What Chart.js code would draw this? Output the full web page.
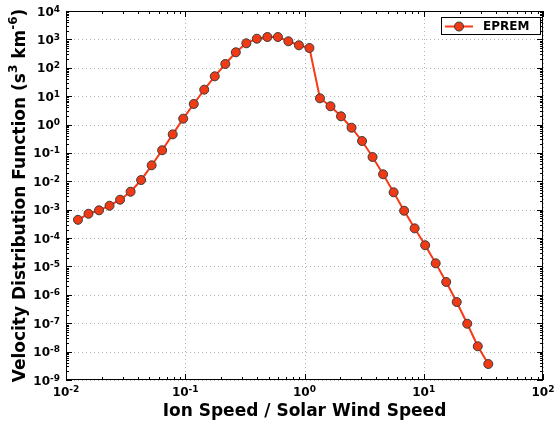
<!DOCTYPE html>
<html>
<head>
<meta charset="utf-8">
<script src="https://cdn.jsdelivr.net/npm/chart.js@4.4.1/dist/chart.umd.min.js"></script>
<style>
  html, body { margin: 0; padding: 0; background: #fff; }
  #wrap { width: 556px; height: 423px; }
</style>
</head>
<body>
<div id="wrap"><canvas id="myChart"></canvas></div>
<script>
// Ion speed (in units of solar wind speed)
const speed = [0.0126, 0.01544, 0.01892, 0.02318, 0.02841, 0.03481, 0.04265, 0.05226,
  0.0640, 0.0785, 0.0961, 0.1178, 0.1443, 0.1768, 0.2167, 0.2655, 0.3252, 0.3985,
  0.4883, 0.5983, 0.7328, 0.898, 1.100, 1.348, 1.652, 2.024, 2.480, 3.038, 3.722,
  4.560, 5.587, 6.845, 8.387, 10.28, 12.59, 15.43, 18.90, 23.16, 28.38, 34.77];

// EPREM velocity distribution function (s^3 km^-6)
const vdf = [4.4e-4, 7.2e-4, 9.5e-4, 1.38e-3, 2.25e-3, 4.3e-3, 1.11e-2, 3.66e-2,
  0.124, 0.45, 1.61, 5.3, 16.9, 50, 136, 351, 728, 1057,
  1213, 1213, 857, 619, 497, 8.4, 4.4, 1.95, 0.774, 0.263, 0.0718,
  0.0177, 4.1e-3, 9.2e-4, 2.2e-4, 5.6e-5, 1.29e-5, 2.84e-6, 5.6e-7, 9.6e-8, 1.54e-8, 3.66e-9];

// tick exponents (labels are 10^n)
const xTickExp = [-2, -1, 0, 1, 2];
const yTickExp = [-9, -8, -7, -6, -5, -4, -3, -2, -1, 0, 1, 2, 3, 4];

const seriesName = "EPREM";
const lineColor = "#f83a16";
const markerColor = "#f03a16";

const FONT = "DejaVu Sans";

// draw "10" with a raised exponent; align: 'center' or 'right'
function drawPow(ctx, exp, x, baseY, align) {
  const base = "10";
  const sup = String(exp);
  ctx.font = "bold 12px " + FONT;
  const wb = ctx.measureText(base).width;
  ctx.font = "bold 9px " + FONT;
  const we = ctx.measureText(sup).width;
  const total = wb + we;
  let x0 = align === "right" ? x - total : x - total / 2;
  ctx.textAlign = "left";
  ctx.textBaseline = "alphabetic";
  ctx.font = "bold 12px " + FONT;
  ctx.fillText(base, x0, baseY);
  ctx.font = "bold 9px " + FONT;
  ctx.fillText(sup, x0 + wb, baseY - 4);
}

// rich text: segments [{t, sup}] centered at 0 horizontally
function drawRich(ctx, segs, size) {
  const supSize = Math.round(size * 0.7);
  let total = 0;
  const widths = segs.map(s => {
    ctx.font = "bold " + (s.sup ? supSize : size) + "px " + FONT;
    const w = ctx.measureText(s.t).width;
    total += w;
    return w;
  });
  let x = -total / 2;
  ctx.textAlign = "left";
  ctx.textBaseline = "alphabetic";
  segs.forEach((s, i) => {
    ctx.font = "bold " + (s.sup ? supSize : size) + "px " + FONT;
    ctx.fillText(s.t, x, s.sup ? -size * 0.45 : 0);
    x += widths[i];
  });
}

const axesPlugin = {
  id: "mplAxes",
  beforeDatasetsDraw(chart) {
    const { ctx, chartArea: a, scales } = chart;
    ctx.save();
    ctx.strokeStyle = "rgba(0,0,0,0.3)";
    ctx.lineWidth = 1;
    ctx.setLineDash([1, 3]);
    xTickExp.forEach(e => {
      const px = Math.round(scales.x.getPixelForValue(Math.pow(10, e))) + 0.5;
      ctx.beginPath(); ctx.moveTo(px, a.top); ctx.lineTo(px, a.bottom); ctx.stroke();
    });
    yTickExp.forEach(e => {
      const py = Math.round(scales.y.getPixelForValue(Math.pow(10, e))) + 0.5;
      ctx.beginPath(); ctx.moveTo(a.left, py); ctx.lineTo(a.right, py); ctx.stroke();
    });
    ctx.restore();
  },
  afterDatasetsDraw(chart) {
    const { ctx, chartArea: a, scales } = chart;
    ctx.save();
    ctx.strokeStyle = "#000";
    ctx.fillStyle = "#000";
    ctx.lineWidth = 1;
    ctx.setLineDash([]);

    // ticks (inside, all four sides)
    const tick = (px, len, vertical) => {
      ctx.beginPath();
      if (vertical) {
        ctx.moveTo(px, a.bottom); ctx.lineTo(px, a.bottom - len);
        ctx.moveTo(px, a.top); ctx.lineTo(px, a.top + len);
      } else {
        ctx.moveTo(a.left, px); ctx.lineTo(a.left + len, px);
        ctx.moveTo(a.right, px); ctx.lineTo(a.right - len, px);
      }
      ctx.stroke();
    };
    xTickExp.forEach((e, i) => {
      tick(Math.round(scales.x.getPixelForValue(Math.pow(10, e))) + 0.5, 6, true);
      if (i < xTickExp.length - 1) {
        for (let m = 2; m < 10; m++) {
          tick(Math.round(scales.x.getPixelForValue(m * Math.pow(10, e))) + 0.5, 3, true);
        }
      }
    });
    yTickExp.forEach((e, i) => {
      tick(Math.round(scales.y.getPixelForValue(Math.pow(10, e))) + 0.5, 6, false);
      if (i < yTickExp.length - 1) {
        for (let m = 2; m < 10; m++) {
          tick(Math.round(scales.y.getPixelForValue(m * Math.pow(10, e))) + 0.5, 3, false);
        }
      }
    });

    // frame
    ctx.strokeRect(a.left + 0.5, a.top + 0.5, a.right - a.left - 1, a.bottom - a.top - 1);

    // tick labels
    xTickExp.forEach(e => {
      drawPow(ctx, e, scales.x.getPixelForValue(Math.pow(10, e)), a.bottom + 16, "center");
    });
    yTickExp.forEach(e => {
      drawPow(ctx, e, a.left - 6, scales.y.getPixelForValue(Math.pow(10, e)) + 4.5, "right");
    });

    // axis titles
    ctx.save();
    ctx.translate((a.left + a.right) / 2, 416);
    drawRich(ctx, [{ t: "Ion Speed / Solar Wind Speed" }], 17);
    ctx.restore();

    ctx.save();
    ctx.translate(25, (a.top + a.bottom) / 2);
    ctx.rotate(-Math.PI / 2);
    drawRich(ctx, [
      { t: "Velocity Distribution Function (s" },
      { t: "3", sup: true },
      { t: " km" },
      { t: "-6", sup: true },
      { t: ")" }
    ], 17);
    ctx.restore();

    // legend
    const ds = chart.data.datasets[0];
    const lx = 441, ly = 17, lw = 99, lh = 17;
    ctx.fillStyle = "#fff";
    ctx.fillRect(lx, ly, lw, lh);
    ctx.strokeStyle = "#000";
    ctx.strokeRect(lx + 0.5, ly + 0.5, lw, lh);
    const cy = ly + lh / 2 + 1;
    ctx.strokeStyle = ds.borderColor;
    ctx.lineWidth = ds.borderWidth;
    ctx.beginPath(); ctx.moveTo(445, cy); ctx.lineTo(473, cy); ctx.stroke();
    ctx.beginPath();
    ctx.arc(459, cy, ds.pointRadius, 0, Math.PI * 2);
    ctx.fillStyle = ds.pointBackgroundColor;
    ctx.fill();
    ctx.lineWidth = ds.pointBorderWidth;
    ctx.strokeStyle = ds.pointBorderColor;
    ctx.stroke();
    ctx.fillStyle = "#000";
    ctx.font = "bold 12px " + FONT;
    ctx.textAlign = "left";
    ctx.textBaseline = "middle";
    ctx.fillText(ds.label, 483, cy);

    ctx.restore();
  }
};

const points = speed.map((s, i) => ({ x: s, y: vdf[i] }));

const canvas = document.getElementById("myChart");
const ctx = canvas.getContext("2d");

const myChart = new Chart(ctx, {
  type: "line",
  data: {
    datasets: [
      {
        label: seriesName,
        data: points,
        borderColor: lineColor,
        borderWidth: 2,
        pointRadius: 4.5,
        pointHoverRadius: 4.5,
        pointBackgroundColor: markerColor,
        pointBorderColor: "#3a3a3a",
        pointBorderWidth: 1,
        tension: 0,
        fill: false
      }
    ]
  },
  options: {
    responsive: true,
    maintainAspectRatio: false,
    animation: false,
    events: [],
    layout: { padding: { left: 0, top: 11, right: 13, bottom: 0 } },
    plugins: {
      legend: { display: false },
      tooltip: { enabled: false }
    },
    scales: {
      x: {
        type: "logarithmic",
        min: 0.01,
        max: 100,
        grid: { display: false },
        border: { display: false },
        ticks: { display: false },
        afterFit: (scale) => { scale.height = 43; }
      },
      y: {
        type: "logarithmic",
        min: 1e-9,
        max: 1e4,
        grid: { display: false },
        border: { display: false },
        ticks: { display: false },
        afterFit: (scale) => { scale.width = 66; }
      }
    }
  },
  plugins: [axesPlugin]
});
</script>
</body>
</html>
